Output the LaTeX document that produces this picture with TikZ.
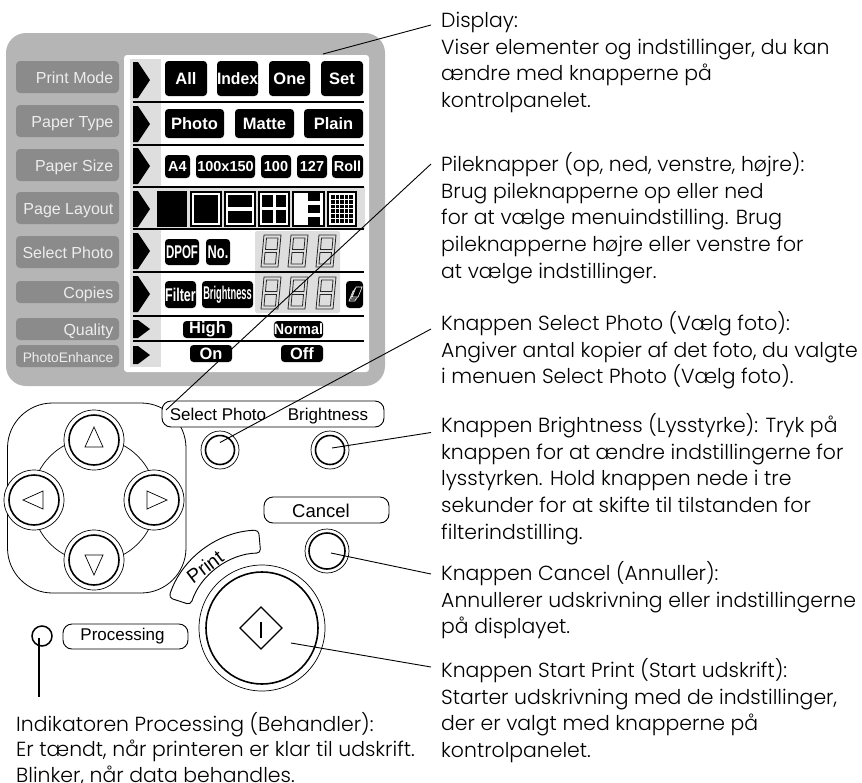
\documentclass[tikz,border=0pt]{standalone}
\usepackage{fontspec}
\usepackage{graphicx}
\setmainfont{Poppins}[UprightFont=* Light]
\newfontfamily\hv{Liberation Sans}
\definecolor{panelgrey}{HTML}{B5B5B5}
\definecolor{labelgrey}{HTML}{8B8B8B}
\definecolor{lcdgrey}{HTML}{DEDEDE}
\definecolor{labeltext}{HTML}{EDEDED}
\tikzset{
  caption/.style={anchor=north west,inner sep=0pt,align=left,font=\fontsize{20.4}{26.8}\selectfont},
  sidelabel/.style={rectangle,rounded corners=4pt,fill=labelgrey,text=labeltext,inner sep=0pt},
  lcdbox/.style={rectangle,rounded corners=3.5pt,fill=black,text=white,inner sep=0pt,font=\hv\bfseries\fontsize{16.5}{17}\selectfont},
  pill/.style={rectangle,rounded corners=9pt,draw=black,line width=.9pt,fill=white,inner sep=0pt,font=\hv\fontsize{17.5}{18}\selectfont},
  divider/.style={line width=2.2pt,black},
  leader/.style={line width=.9pt,black},
  thinring/.style={circle,draw=black,fill=white,line width=.7pt,inner sep=0pt},
  thickring/.style={circle,draw=black,line width=1.6pt,inner sep=0pt},
  tri/.style={draw=black,line width=.7pt,fill=white,line join=miter}
}
\newcommand{\sidelab}[6]{\node[sidelabel,minimum width={(#4-#2)*1pt},minimum height={(#5-#3)*1pt}] (#1) at ({(#2+#4)/2},{(#3+#5)/2}) {};
  \node[anchor=base east,inner sep=0pt,text=labeltext,font=\hv\fontsize{16}{17}\selectfont] (#1t) at (113.5,{(#3+#5)/2+6}) {#6};}
\newcommand{\lcd}[6]{\node[lcdbox,minimum width={(#4-#2)*1pt},minimum height={(#5-#3)*1pt}] (#1) at ({(#2+#4)/2},{(#3+#5)/2}) {#6};}
\newcommand{\marker}[3]{\fill (133,#1) -- (138,#1) -- (#3,#2) -- (138,{2*#2-#1}) -- (133,{2*#2-#1}) -- cycle;}
\newcommand{\segdigit}[2]{\begin{scope}[shift={(#1,#2)},draw=black!85,line width=.8pt]
  \draw (3,0) -- (20,0) -- (17,32) -- (0,32) -- cycle;
  \draw (5.5,3) -- (17,3) -- (16,14.5) -- (4.5,14.5) -- cycle;
  \draw (4,17.5) -- (15.5,17.5) -- (14.5,29) -- (3,29) -- cycle;
\end{scope}}
\newcommand{\layoutframe}[2]{\fill[black] (#1,191) rectangle (#2,227);
  \fill[white] ({#1+2},193) rectangle ({#2-2},225);}
\begin{document}
\begin{tikzpicture}[x=1pt,y=-1pt]
\useasboundingbox (0,0) rectangle (862,782);
% panel
\fill[panelgrey,rounded corners=20pt] (6,33) rectangle (385,386);
\fill[white,rounded corners=3pt] (124,55) rectangle (369,372);
\fill[lcdgrey] (130,59) rectangle (161,367);
\fill[lcdgrey] (157,187) rectangle (365,229);
\fill[lcdgrey,rounded corners=2pt] (255,231) rectangle (340,313);
% side labels
\sidelab{lPM}{16}{61}{119}{93}{Print Mode}
\sidelab{lPT}{16}{105}{119}{137}{Paper Type}
\sidelab{lPS}{16}{149}{119}{181}{Paper Size}
\sidelab{lPL}{16}{192}{119}{224}{Page Layout}
\sidelab{lSP}{16}{236}{119}{268}{Select Photo}
\sidelab{lCO}{16}{281}{119}{303}{Copies}
\sidelab{lQU}{16}{318}{119}{340}{Quality}
\sidelab{lPE}{16}{345}{119}{367}{\fontsize{13.8}{15}\selectfont PhotoEnhance}
% dividers
\foreach \yy in {102,145,187,229,272,316,341} \draw[divider] (133,\yy) -- (364,\yy);
% markers
\marker{62}{80}{150}
\marker{106}{124}{150}
\marker{148}{166}{150}
\marker{191}{209}{150}
\marker{233}{251}{150}
\marker{276}{294}{150}
\fill (133,320) -- (138,320) -- (150,329) -- (138,338) -- (133,338) -- cycle;
\fill (133,346) -- (138,346) -- (150,355) -- (138,364) -- (133,364) -- cycle;
% row 1
\lcd{bAll}{165}{61}{207}{96}{All}
\lcd{bIndex}{217}{61}{258}{96}{\scalebox{.95}[1]{Index}}
\lcd{bOne}{269}{61}{310}{96}{One}
\lcd{bSet}{321}{61}{363}{96}{Set}
% row 2
\lcd{bPhoto}{165}{109}{224}{138}{Photo}
\lcd{bMatte}{235}{109}{294}{138}{Matte}
\lcd{bPlain}{304}{109}{363}{138}{Plain}
% row 3
\lcd{bAf}{165}{155}{190}{178}{\fontsize{14.5}{15}\selectfont A4}
\lcd{bCL}{196}{155}{255}{178}{\fontsize{14.5}{15}\selectfont 100x150}
\lcd{bC}{261}{155}{291}{178}{\fontsize{14.5}{15}\selectfont 100}
\lcd{bCXX}{297}{155}{327}{178}{\fontsize{14.5}{15}\selectfont 127}
\lcd{bRoll}{332}{155}{363}{178}{\fontsize{14.5}{15}\selectfont Roll}
% row 4 layouts
\fill[black] (157,191) rectangle (187,227);
\layoutframe{190}{222}
\fill[black] (194,195) rectangle (218,223);
\layoutframe{224}{256}
\fill[black] (228,195) rectangle (252,207);
\fill[black] (228,211) rectangle (252,223);
\layoutframe{258}{290}
\fill[black] (262,195) rectangle (272.5,207);
\fill[black] (275.5,195) rectangle (286,207);
\fill[black] (262,210) rectangle (272.5,223);
\fill[black] (275.5,210) rectangle (286,223);
\layoutframe{292}{325}
\fill[black] (308,193) rectangle (320,201);
\fill[black] (308,205) rectangle (320,213);
\fill[black] (308,217) rectangle (320,225);
\layoutframe{327}{357}
\foreach \ci in {0,...,4} \foreach \cj in {0,...,5} \fill[black] ({331+\ci*4.6},{195+\cj*4.8}) rectangle ({334.6+\ci*4.6},{198.8+\cj*4.8});
% row 5
\lcd{bDPOF}{165}{239}{199}{265}{\scalebox{.72}[1.15]{\fontsize{16}{17}\selectfont DPOF}}
\lcd{bNo}{206}{239}{230}{265}{\scalebox{.8}[1.15]{\fontsize{16}{17}\selectfont No.}}
\segdigit{261}{235}
\segdigit{288}{235}
\segdigit{316}{235}
% row 6
\lcd{bFilter}{165}{281}{196}{308}{\scalebox{.78}[1.15]{\fontsize{16}{17}\selectfont Filter}}
\lcd{bBright}{202}{281}{253}{308}{\scalebox{.58}[1.15]{\fontsize{16}{17}\selectfont Brightness}}
\segdigit{261}{277}
\segdigit{288}{277}
\segdigit{316}{277}
\lcd{bIcon}{346}{281}{363}{308}{}
\foreach \dd in {0,2,4} \draw[white,line width=.6pt,fill=black] ({349+\dd/1.3},{301-\dd}) -- ({353+\dd/1.3},{291-\dd}) -- ({360+\dd/1.3-1},{291-\dd}) -- ({356+\dd/1.3-1},{301-\dd}) -- cycle;
% rows 7, 8
\lcd{bHigh}{183}{321}{232}{338}{High}
\lcd{bNormal}{274}{321}{323}{338}{\scalebox{.95}[1]{\fontsize{15}{16}\selectfont Normal}}
\lcd{bOn}{190}{345}{232}{362}{On}
\lcd{bOff}{281}{345}{323}{362}{Off}
% arrow keys
\draw[line width=.8pt,rounded corners=45pt] (7.5,403) rectangle (186,593);
\draw[line width=.7pt] (94,500) circle[radius=62pt];
\foreach \nm/\bx/\by in {kUp/94/440,kLeft/34/500,kRight/154/500,kDown/94/560}{
  \node[thinring,minimum size=60pt] (\nm o) at (\bx,\by) {};
  \node[thickring,minimum size=50pt] (\nm) at (\bx,\by) {};
}
\draw[tri] (85,447) -- (94,427) -- (103,447) -- cycle;
\draw[tri] (43,491) -- (23,500) -- (43,509) -- cycle;
\draw[tri] (147,491) -- (167,500) -- (147,509) -- cycle;
\draw[tri] (85,555) -- (94,575) -- (103,555) -- cycle;
% select/brightness
\node[pill,minimum width=222pt,minimum height=26pt] (pSB) at (273,414) {};
\node[anchor=base,inner sep=0pt,font=\hv\fontsize{17}{18}\selectfont] (tSP) at (218,420) {Select Photo};
\node[anchor=base,inner sep=0pt,font=\hv\fontsize{17}{18}\selectfont] (tBR) at (328,420) {Brightness};
\node[thinring,minimum size=38pt] (kSPo) at (220,450) {};
\node[thickring,minimum size=29pt] (kSP) at (220,450) {};
\node[thinring,minimum size=38pt] (kBRo) at (330,450) {};
\node[thickring,minimum size=29pt] (kBR) at (330,450) {};
% cancel
\node[pill,minimum width=125pt,minimum height=26pt] (pCA) at (326.5,510) {};
\node[inner sep=0pt,font=\hv\fontsize{18.5}{19}\selectfont] (tCA) at (321,510.5) {Cancel};
\node[thinring,minimum size=44pt] (kCAo) at (327,551) {};
\node[thickring,minimum size=36pt] (kCA) at (327,551) {};
% print tab
\draw[line width=.9pt,fill=white,rounded corners=4pt] (258.6,530.1) .. controls (217.4,531.5) and (181.5,558.5) .. (168.8,597.7) -- (190.7,604.8) .. controls (200.4,574.8) and (229.2,553.5) .. (260.7,553) -- cycle;
\node[rotate=37,inner sep=0pt,font=\hv\fontsize{19.5}{20}\selectfont] (tPR) at (205,567) {Print};
% start button
\node[thinring,minimum size=126pt] (kSTo) at (262,628) {};
\node[thickring,minimum size=112pt] (kST) at (262,628) {};
\draw[line width=1.3pt,line join=miter] (261,607) -- (282,628) -- (261,649) -- (240,628) -- cycle;
\draw[line width=1.3pt] (261,622) -- (261,638);
% processing
\node[circle,draw=black,line width=1.5pt,minimum size=20pt,inner sep=0pt] (kPR) at (42,636) {};
\node[pill,minimum width=125pt,minimum height=25pt] (pPR) at (125.5,636.5) {};
\node[inner sep=0pt,font=\hv\fontsize{17}{18}\selectfont] (tPP) at (122.5,636.5) {Processing};
% anchors of the leaders
\coordinate (dA) at (323,54);   \coordinate (dB) at (431,25);
\coordinate (aA) at (166,410);  \coordinate (aB) at (431,164);
\coordinate (sA) at (220,442.5);\coordinate (sB) at (431,329);
\coordinate (bA) at (332,448);  \coordinate (bB) at (431,432.5);
\coordinate (cA) at (331,553);  \coordinate (cB) at (431,574);
\coordinate (pA) at (291,643);  \coordinate (pB) at (431,667);
\coordinate (iA) at (39,638);   \coordinate (iB) at (39,697);
\draw[leader] (dA) -- (dB);
\draw[leader] (aA) -- (aB);
\draw[leader] (sA) -- (sB);
\draw[leader] (bA) -- (bB);
\draw[leader] (cA) -- (cB);
\draw[leader] (pA) -- (pB);
\draw[line width=1.3pt] (iA) -- (iB);
% captions: the strut makes the top of each node 18 above its first baseline
\def\fs{\rule{0pt}{18pt}}
\node[caption] (cap1) at (441,9) {\fs Display:\\Viser elementer og indstillinger, du kan\\ændre med knapperne på\\kontrolpanelet.};
\node[caption] (cap2) at (441,152) {\fs Pileknapper (op, ned, venstre, højre):\\Brug pileknapperne op eller ned\\for at vælge menuindstilling. Brug\\pileknapperne højre eller venstre for\\at vælge indstillinger.};
\node[caption] (cap3) at (441,311) {\fs Knappen Select Photo (Vælg foto):\\Angiver antal kopier af det foto, du valgte\\i menuen Select Photo (Vælg foto).};
\node[caption] (cap4) at (441,413) {\fs Knappen Brightness (Lysstyrke): Tryk på\\knappen for at ændre indstillingerne for\\lysstyrken. Hold knappen nede i tre\\sekunder for at skifte til tilstanden for\\filterindstilling.};
\node[caption] (cap5) at (441,561) {\fs Knappen Cancel (Annuller):\\Annullerer udskrivning eller indstillingerne\\på displayet.};
\node[caption] (cap6) at (441,658) {\fs Knappen Start Print (Start udskrift):\\Starter udskrivning med de indstillinger,\\der er valgt med knapperne på\\kontrolpanelet.};
\node[caption,font=\fontsize{20.4}{25.5}\selectfont] (cap7) at (16,712) {\fs Indikatoren Processing (Behandler):\\Er tændt, når printeren er klar til udskrift.\\Blinker, når data behandles.};
\end{tikzpicture}
\end{document}
